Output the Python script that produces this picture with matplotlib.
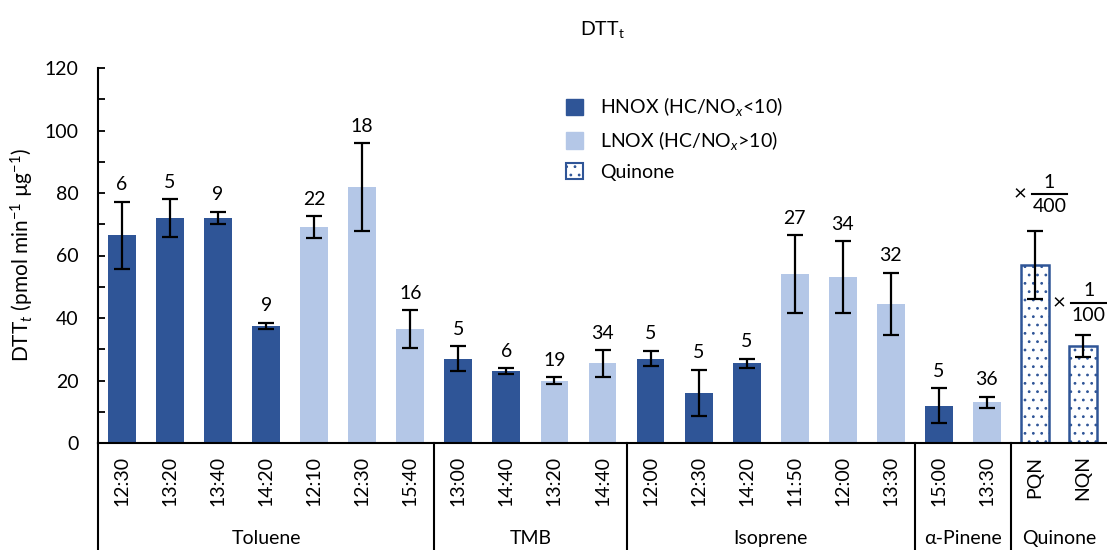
import matplotlib.pyplot as plt
import matplotlib.transforms as mtransforms
from matplotlib.patches import Patch
import numpy as np

plt.rcParams['font.family'] = ['Lato', 'DejaVu Sans']
plt.rcParams['mathtext.fontset'] = 'custom'
plt.rcParams['mathtext.rm'] = 'Lato'
plt.rcParams['mathtext.it'] = 'Lato:italic'
plt.rcParams['hatch.linewidth'] = 0.8

# data
times = ['12:30', '13:20', '13:40', '14:20', '12:10', '12:30', '15:40',
         '13:00', '14:40', '13:20', '14:40',
         '12:00', '12:30', '14:20', '11:50', '12:00', '13:30',
         '15:00', '13:30',
         'PQN', 'NQN']
kinds = ['H', 'H', 'H', 'H', 'L', 'L', 'L',
         'H', 'H', 'L', 'L',
         'H', 'H', 'H', 'L', 'L', 'L',
         'H', 'L',
         'Q', 'Q']
values = [66.5, 72, 72, 37.5, 69, 82, 36.5,
          27, 23, 20, 25.5,
          27, 16, 25.5, 54, 53, 44.5,
          12, 13,
          57, 31]
errors = [10.7, 6, 2, 1, 3.5, 14, 6,
          4, 1, 1, 4.3,
          2.5, 7.5, 1.5, 12.5, 11.5, 10,
          5.5, 1.8,
          11, 3.5]
counts = ['6', '5', '9', '9', '22', '18', '16',
          '5', '6', '19', '34',
          '5', '5', '5', '27', '34', '32',
          '5', '36',
          '', '']
groups = ['Toluene', 'TMB', 'Isoprene', 'α-Pinene', 'Quinone']
group_sizes = [7, 4, 6, 2, 2]
scale_notes = ['400', '100']

dark = '#2F5597'
light = '#B4C7E7'
fs = 14

fig = plt.figure(figsize=(11.07, 5.5), dpi=100)
ax = fig.add_axes([98 / 1107, 1 - 443 / 550, 1 - 98 / 1107, (443 - 68) / 550])

x = np.arange(len(values))
for i in x:
    k = kinds[i]
    if k == 'H':
        ax.bar(i, values[i], 0.58, color=dark, zorder=2)
    elif k == 'L':
        ax.bar(i, values[i], 0.58, color=light, zorder=2)
    else:
        ax.bar(i, values[i], 0.58, facecolor='white', edgecolor=dark,
               hatch='..', linewidth=1.8, zorder=2)
ax.errorbar(x, values, yerr=errors, fmt='none', ecolor='black',
            elinewidth=1.6, capsize=5.5, capthick=1.6, zorder=3)

for i in x:
    if counts[i]:
        ax.annotate(counts[i], (i, values[i] + errors[i]), xytext=(0, 6),
                    textcoords='offset points', ha='center', va='bottom',
                    fontsize=fs)

# "× 1/400" and "× 1/100" notes next to the quinone bars
for xc, yc, den in [(19.3, 79.6, scale_notes[0]), (20.12, 44.8, scale_notes[1])]:
    ax.text(xc - 0.62, yc, '×', fontsize=16, ha='center', va='center')
    ax.plot([xc - 0.36, xc + 0.36], [yc, yc], color='black', lw=1.5,
            clip_on=False)
    ax.text(xc, yc + 1.2, '1', fontsize=fs, ha='center', va='bottom')
    ax.text(xc, yc - 1.2, den, fontsize=fs, ha='center', va='top')

ax.set_xlim(-0.5, len(values) - 0.5)
ax.set_ylim(0, 120)
ax.set_yticks(np.arange(0, 121, 20))
ax.set_yticks(np.arange(10, 120, 20), minor=True)
ax.tick_params(axis='y', which='both', direction='in', length=5, width=1.3,
               labelsize=fs, pad=14)
ax.set_xticks(x)
ax.set_xticklabels(times, rotation=90, fontsize=fs)
ax.tick_params(axis='x', length=0, pad=9)
for s in ['top', 'right']:
    ax.spines[s].set_visible(False)
ax.spines['left'].set_linewidth(1.5)
ax.spines['bottom'].set_linewidth(1.5)

ax.set_ylabel(r'DTT$_t$ (pmol min$^{-1}$ µg$^{-1}$)', fontsize=15, labelpad=6)
fig.text(602 / 1107, 1 - 30 / 550, r'DTT$_\mathrm{t}$', fontsize=14,
         ha='center', va='center')

# group separators and names
trans = mtransforms.blended_transform_factory(ax.transData, fig.transFigure)
bottom = 1 - 443 / 550
start = 0
edges = [-0.5]
for name, n in zip(groups, group_sizes):
    end = start + n
    edges.append(end - 0.5)
    ax.text((start + end - 1) / 2, 0.006, name, transform=trans, fontsize=fs,
            ha='center', va='bottom')
    start = end
for e in edges[:-1]:
    ax.plot([e, e], [0, bottom], transform=trans, color='black', lw=1.5,
            clip_on=False)

handles = [Patch(color=dark), Patch(color=light),
           Patch(facecolor='white', edgecolor=dark, hatch='..', linewidth=1.5)]
labels = [r'HNOX (HC/NO$_x$<10)', r'LNOX (HC/NO$_x$>10)', 'Quinone']
fig.legend(handles, labels, loc='upper left', bbox_to_anchor=(548 / 1107, 1 - 78 / 550),
           frameon=False, fontsize=fs, handlelength=0.9, handleheight=0.9,
           labelspacing=0.55, handletextpad=0.9)

fig.savefig('out.png', dpi=100)
